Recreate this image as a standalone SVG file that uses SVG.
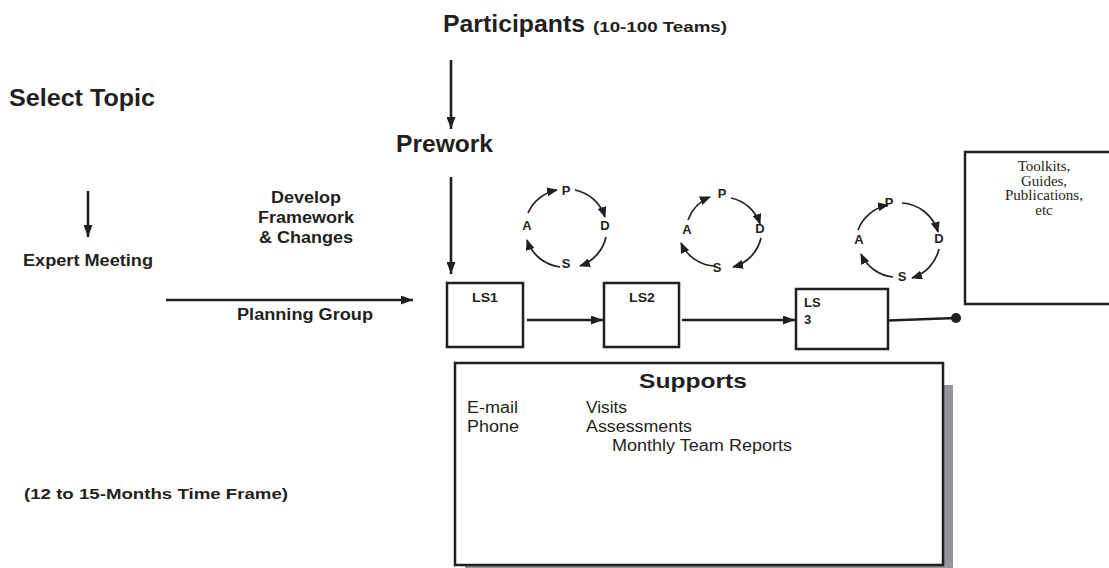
<svg xmlns="http://www.w3.org/2000/svg" width="1109" height="568" viewBox="0 0 1109 568">
  <style>
    .b { font-family: "Liberation Sans", Arial, sans-serif; font-weight: bold; fill: #231f20; }
    .r { font-family: "Liberation Sans", Arial, sans-serif; fill: #231f20; }
    .t { font-family: "Liberation Serif", "Times New Roman", serif; fill: #231f20; font-size: 15px; text-anchor: middle; }
    .pd { font-family: "Liberation Sans", Arial, sans-serif; font-weight: bold; fill: #231f20; font-size: 13px; text-anchor: middle; }
    .box { fill: #ffffff; stroke: #231f20; stroke-width: 2.5; }
    .line { fill: none; stroke: #231f20; stroke-width: 2.6; }
    .arc { fill: none; stroke: #231f20; stroke-width: 1.7; }
  </style>
  <defs>
    <marker id="arrow" markerUnits="userSpaceOnUse" viewBox="0 0 12 9" refX="12" refY="4.5" markerWidth="12" markerHeight="9" orient="auto">
      <path d="M0,0 L12,4.5 L0,9 z" fill="#231f20"/>
    </marker>
    <marker id="arrow-sm" markerUnits="userSpaceOnUse" viewBox="0 0 11 9" refX="10" refY="4.5" markerWidth="11" markerHeight="9" orient="auto">
      <path d="M0,0 L11,4.5 L0,9 z" fill="#231f20"/>
    </marker>
  </defs>
  <rect width="1109" height="568" fill="#ffffff"/>

  <!-- headings and free labels -->
  <g id="participants">
    <text class="b" x="443" y="32" font-size="24" textLength="142" lengthAdjust="spacingAndGlyphs">Participants</text>
    <text class="b" x="593" y="32" font-size="15" textLength="134" lengthAdjust="spacingAndGlyphs">(10-100 Teams)</text>
  </g>
  <g id="select-topic">
    <text class="b" x="9" y="106" font-size="23" textLength="146" lengthAdjust="spacingAndGlyphs">Select Topic</text>
  </g>
  <g id="prework">
    <text class="b" x="396" y="152" font-size="23" textLength="97" lengthAdjust="spacingAndGlyphs">Prework</text>
  </g>
  <g id="develop-framework">
    <text class="b" x="306" y="203" font-size="16" text-anchor="middle" textLength="70" lengthAdjust="spacingAndGlyphs">Develop</text>
    <text class="b" x="306" y="223" font-size="16" text-anchor="middle" textLength="96" lengthAdjust="spacingAndGlyphs">Framework</text>
    <text class="b" x="306" y="243" font-size="16" text-anchor="middle" textLength="94" lengthAdjust="spacingAndGlyphs">&amp; Changes</text>
  </g>
  <g id="expert-meeting">
    <text class="b" x="23" y="266" font-size="16" textLength="130" lengthAdjust="spacingAndGlyphs">Expert Meeting</text>
  </g>
  <g id="planning-group">
    <text class="b" x="237" y="320" font-size="16" textLength="136" lengthAdjust="spacingAndGlyphs">Planning Group</text>
  </g>
  <g id="time-frame">
    <text class="b" x="24" y="499" font-size="15" textLength="264" lengthAdjust="spacingAndGlyphs">(12 to 15-Months Time Frame)</text>
  </g>

  <!-- learning sessions -->
  <g id="ls1">
    <rect class="box" x="447" y="283" width="76" height="64"/>
    <text class="b" x="472" y="302" font-size="13" textLength="26" lengthAdjust="spacingAndGlyphs">LS1</text>
  </g>
  <g id="ls2">
    <rect class="box" x="604" y="283" width="75" height="64"/>
    <text class="b" x="629" y="302" font-size="13" textLength="26" lengthAdjust="spacingAndGlyphs">LS2</text>
  </g>
  <g id="ls3">
    <rect class="box" x="796" y="289" width="92" height="60"/>
    <text class="b" x="804" y="307" font-size="13">LS</text>
    <text class="b" x="804" y="324" font-size="13">3</text>
  </g>

  <!-- resources box -->
  <g id="toolkits">
    <rect class="box" x="965" y="152" width="152" height="152"/>
    <text class="t" x="1044" y="171">Toolkits,</text>
    <text class="t" x="1044" y="185.5">Guides,</text>
    <text class="t" x="1044" y="200">Publications,</text>
    <text class="t" x="1044" y="215">etc</text>
  </g>

  <!-- supports panel with drop shadow -->
  <g id="supports">
    <rect x="465" y="385" width="488" height="202" fill="#939598"/>
    <rect class="box" x="455" y="363" width="488" height="202"/>
    <text class="b" x="693" y="388" font-size="20" text-anchor="middle" textLength="108" lengthAdjust="spacingAndGlyphs">Supports</text>
    <text class="r" x="467" y="413" font-size="16" textLength="51" lengthAdjust="spacingAndGlyphs">E-mail</text>
    <text class="r" x="586" y="413" font-size="16" textLength="41" lengthAdjust="spacingAndGlyphs">Visits</text>
    <text class="r" x="467" y="432" font-size="16" textLength="52" lengthAdjust="spacingAndGlyphs">Phone</text>
    <text class="r" x="586" y="432" font-size="16" textLength="106" lengthAdjust="spacingAndGlyphs">Assessments</text>
    <text class="r" x="612" y="451" font-size="16" textLength="180" lengthAdjust="spacingAndGlyphs">Monthly Team Reports</text>
  </g>

  <!-- PDSA cycles -->
  <g id="pdsa1">
    <path class="arc" d="M528,213 A40,40 0 0 1 557,190" marker-end="url(#arrow-sm)"/>
    <path class="arc" d="M575,190 A40,40 0 0 1 605,217" marker-end="url(#arrow-sm)"/>
    <path class="arc" d="M606,237 A40,40 0 0 1 580,266" marker-end="url(#arrow-sm)"/>
    <path class="arc" d="M560,267 A40,40 0 0 1 527,240" marker-end="url(#arrow-sm)"/>
    <text class="pd" x="566" y="194.5">P</text>
    <text class="pd" x="605" y="229.5">D</text>
    <text class="pd" x="566" y="267.5">S</text>
    <text class="pd" x="527" y="229.5">A</text>
  </g>
  <g id="pdsa2">
    <path class="arc" d="M688,220 A39,39 0 0 1 710,197" marker-end="url(#arrow-sm)"/>
    <path class="arc" d="M731,198 A39,39 0 0 1 760,224" marker-end="url(#arrow-sm)"/>
    <path class="arc" d="M761,238 A39,39 0 0 1 733,267" marker-end="url(#arrow-sm)"/>
    <path class="arc" d="M715,266 A39,39 0 0 1 681,243" marker-end="url(#arrow-sm)"/>
    <text class="pd" x="722" y="197.5">P</text>
    <text class="pd" x="760" y="232.5">D</text>
    <text class="pd" x="717" y="271.5">S</text>
    <text class="pd" x="687" y="233.5">A</text>
  </g>
  <g id="pdsa3">
    <path class="arc" d="M858,230 A40,40 0 0 1 888,205" marker-end="url(#arrow-sm)"/>
    <path class="arc" d="M902,203 A40,40 0 0 1 938,232" marker-end="url(#arrow-sm)"/>
    <path class="arc" d="M939,249 A40,40 0 0 1 912,278" marker-end="url(#arrow-sm)"/>
    <path class="arc" d="M893,277 A40,40 0 0 1 861,254" marker-end="url(#arrow-sm)"/>
    <text class="pd" x="889" y="206.5">P</text>
    <text class="pd" x="939" y="242.5">D</text>
    <text class="pd" x="902" y="280.5">S</text>
    <text class="pd" x="859" y="243.5">A</text>
  </g>

  <!-- connectors -->
  <g id="connectors">
    <line class="line" x1="451" y1="60" x2="451" y2="129" marker-end="url(#arrow)"/>
    <line class="line" x1="451" y1="177" x2="451" y2="274" marker-end="url(#arrow)"/>
    <line class="line" x1="88" y1="191" x2="88" y2="237" marker-end="url(#arrow)"/>
    <line class="line" x1="166" y1="300" x2="413" y2="300" marker-end="url(#arrow)"/>
    <line class="line" x1="527" y1="320" x2="603" y2="320" marker-end="url(#arrow)"/>
    <line class="line" x1="682" y1="320" x2="795" y2="320" marker-end="url(#arrow)"/>
    <line class="line" x1="888" y1="320.5" x2="956" y2="318"/>
    <circle cx="956" cy="318" r="5" fill="#231f20"/>
  </g>
</svg>
